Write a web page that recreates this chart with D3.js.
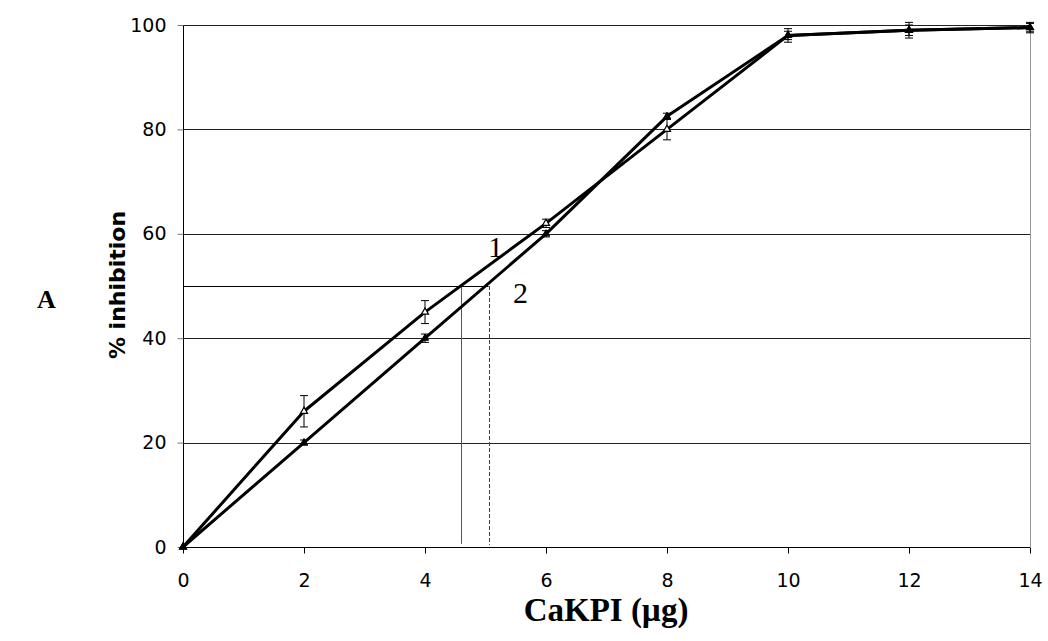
<!DOCTYPE html>
<html><head><meta charset="utf-8">
<script src="https://cdn.jsdelivr.net/npm/d3@7"></script>
<style>body{margin:0;background:#fff}svg{display:block}</style>
</head><body><svg id="c" width="1048" height="641"></svg>
<script>
const doses = [0, 2, 4, 6, 8, 10, 12, 14];
const series1 = [0, 26, 45, 62, 80, 98, 99, 99.5];
const series1Err = [0, 3, 2.2, 0.8, 2, 1.3, 1.5, 1];
const series2 = [0, 20, 40, 60, 82.5, 98, 99, 99.5];
const series2Err = [0, 0.5, 0.8, 0.6, 0.6, 0.8, 1, 0.8];
const xTicks = [0, 2, 4, 6, 8, 10, 12, 14];
const yTicks = [0, 20, 40, 60, 80, 100];
const ic50 = [4.6, 5.05];

const svg = d3.select("#c");
const x = d3.scaleLinear().domain([0, 14]).range([183, 1030]);
const y = d3.scaleLinear().domain([0, 100]).range([547, 25]);

// gridlines
svg.append("g").selectAll("line").data(yTicks.filter(d => d > 0)).join("line")
  .attr("x1", x(0)).attr("x2", x(14)).attr("y1", d => Math.round(y(d)) + 0.5).attr("y2", d => Math.round(y(d)) + 0.5)
  .attr("stroke", "#222").attr("stroke-width", 1);
// right border
svg.append("line").attr("x1", x(14) + 0.5).attr("x2", x(14) + 0.5).attr("y1", y(100)).attr("y2", y(0))
  .attr("stroke", "#999").attr("stroke-width", 1);

// y axis
const yAxis = d3.axisLeft(y).tickValues(yTicks).tickSize(6).tickPadding(11).tickFormat(d3.format("d"));
const gy = svg.append("g").attr("transform", `translate(${x(0) + 0.5},0)`).call(yAxis);
gy.select(".domain").attr("stroke", "#000").attr("d", `M0,${y(100)}V${y(0)}`);
gy.selectAll(".tick line").attr("stroke", "#777");
gy.selectAll("text").attr("font-family", "DejaVu Sans").attr("font-size", 19).attr("fill", "#000");

// x axis
const xAxis = d3.axisBottom(x).tickValues(xTicks).tickSize(6).tickFormat(d3.format("d"));
const gx = svg.append("g").attr("transform", `translate(0,${Math.round(y(0)) + 0.5})`).call(xAxis);
gx.select(".domain").attr("stroke", "#000").attr("d", `M${x(0)},0H${x(14)}`);
gx.selectAll(".tick line").attr("stroke", "#000");
gx.selectAll("text").attr("font-family", "DejaVu Sans").attr("font-size", 19).attr("fill", "#000")
  .attr("y", 39).attr("dy", 0);

// IC50 guide lines
svg.append("line").attr("x1", x(0)).attr("x2", x(ic50[1])).attr("y1", Math.round(y(50)) + 0.5).attr("y2", Math.round(y(50)) + 0.5)
  .attr("stroke", "#000").attr("stroke-width", 1);
svg.append("line").attr("x1", Math.round(x(ic50[0])) + 0.5).attr("x2", Math.round(x(ic50[0])) + 0.5)
  .attr("y1", y(50)).attr("y2", y(0.6)).attr("stroke", "#555").attr("stroke-width", 1);
svg.append("line").attr("x1", Math.round(x(ic50[1])) + 0.5).attr("x2", Math.round(x(ic50[1])) + 0.5)
  .attr("y1", y(50)).attr("y2", y(0.4)).attr("stroke", "#444").attr("stroke-width", 1).attr("stroke-dasharray", "4,2");

const line = d3.line().x((d, i) => x(doses[i])).y(d => y(d));
[series1, series2].forEach(s => {
  svg.append("path").attr("d", line(s)).attr("fill", "none").attr("stroke", "#000").attr("stroke-width", 3).attr("stroke-linejoin", "round");
});

function errBars(vals, errs) {
  const g = svg.append("g").attr("stroke", "#000").attr("stroke-width", 1);
  vals.forEach((v, i) => {
    if (errs[i] <= 0) return;
    const cx = x(doses[i]);
    g.append("line").attr("x1", cx).attr("x2", cx).attr("y1", y(v - errs[i])).attr("y2", y(v + errs[i]));
    g.append("line").attr("x1", cx - 4).attr("x2", cx + 4).attr("y1", y(v - errs[i])).attr("y2", y(v - errs[i]));
    g.append("line").attr("x1", cx - 4).attr("x2", cx + 4).attr("y1", y(v + errs[i])).attr("y2", y(v + errs[i]));
  });
}
errBars(series1, series1Err);
errBars(series2, series2Err);

const tri = d3.symbol().type(d3.symbolTriangle).size(22);
svg.append("g").selectAll("path").data(series1).join("path")
  .attr("d", tri).attr("transform", (d, i) => `translate(${x(doses[i])},${y(d)})`)
  .attr("fill", "#fff").attr("stroke", "#000").attr("stroke-width", 1.2);
svg.append("g").selectAll("path").data(series2).join("path")
  .attr("d", tri).attr("transform", (d, i) => `translate(${x(doses[i])},${y(d)})`)
  .attr("fill", "#000").attr("stroke", "#000").attr("stroke-width", 1);

// labels
svg.append("text").attr("x", 488).attr("y", 257).text("1")
  .attr("font-family", "Liberation Serif").attr("font-size", 30).attr("fill", "#000");
svg.append("text").attr("x", 513).attr("y", 303).text("2")
  .attr("font-family", "Liberation Serif").attr("font-size", 30).attr("fill", "#000");
svg.append("text").attr("x", 37).attr("y", 308).text("A")
  .attr("font-family", "Liberation Serif").attr("font-weight", "bold").attr("font-size", 26).attr("fill", "#000");
svg.append("text").attr("transform", "translate(125,285) rotate(-90)").attr("text-anchor", "middle").text("% inhibition")
  .attr("font-family", "DejaVu Sans").attr("font-weight", "bold").attr("font-size", 22).attr("fill", "#000");
svg.append("text").attr("x", 606).attr("y", 621).attr("text-anchor", "middle").text("CaKPI (µg)")
  .attr("font-family", "Liberation Serif").attr("font-weight", "bold").attr("font-size", 33).attr("fill", "#000");
</script></body></html>
